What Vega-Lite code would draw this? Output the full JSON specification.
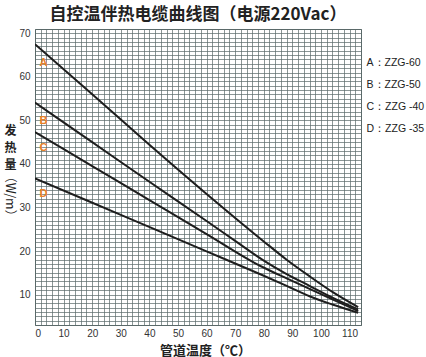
{
  "$schema": "https://vega.github.io/schema/vega-lite/v6.json",
  "width": 326,
  "height": 296,
  "autosize": {"type": "none"},
  "padding": {"left": 35, "top": 29, "right": 65, "bottom": 32},
  "background": "white",
  "title": {
    "text": "自控温伴热电缆曲线图（电源220Vac）",
    "font": "Noto Sans CJK SC",
    "fontSize": 17,
    "fontWeight": "bold",
    "color": "#222222",
    "offset": 0,
    "anchor": "middle"
  },
  "config": {
    "view": {"stroke": "#5a6a6a", "strokeWidth": 1},
    "axis": {
      "labelFont": "Liberation Sans",
      "labelFontSize": 10,
      "labelColor": "#333333",
      "ticks": false,
      "domain": false,
      "gridColor": "#5a6a6a",
      "gridOpacity": 0.7,
      "gridWidth": 1,
      "labelOverlap": false,
      "titleFont": "Noto Sans CJK SC",
      "titleFontWeight": "bold",
      "titleColor": "#222222"
    }
  },
  "datasets": {
    "curves": [
      {"series": "A：ZZG-60", "t": 0, "p": 67.5},
      {"series": "A：ZZG-60", "t": 20, "p": 56.0},
      {"series": "A：ZZG-60", "t": 40, "p": 44.4},
      {"series": "A：ZZG-60", "t": 60, "p": 33.1},
      {"series": "A：ZZG-60", "t": 70, "p": 27.6},
      {"series": "A：ZZG-60", "t": 80, "p": 22.2},
      {"series": "A：ZZG-60", "t": 88, "p": 18.0},
      {"series": "A：ZZG-60", "t": 96, "p": 14.2},
      {"series": "A：ZZG-60", "t": 104, "p": 10.6},
      {"series": "A：ZZG-60", "t": 113, "p": 7.1},
      {"series": "B：ZZG-50", "t": 0, "p": 54.1},
      {"series": "B：ZZG-50", "t": 20, "p": 45.0},
      {"series": "B：ZZG-50", "t": 40, "p": 35.9},
      {"series": "B：ZZG-50", "t": 60, "p": 26.9},
      {"series": "B：ZZG-50", "t": 72, "p": 21.4},
      {"series": "B：ZZG-50", "t": 80, "p": 17.8},
      {"series": "B：ZZG-50", "t": 88, "p": 14.7},
      {"series": "B：ZZG-50", "t": 96, "p": 12.0},
      {"series": "B：ZZG-50", "t": 104, "p": 9.3},
      {"series": "B：ZZG-50", "t": 113, "p": 6.6},
      {"series": "C：ZZG -40", "t": 0, "p": 47.3},
      {"series": "C：ZZG -40", "t": 20, "p": 39.5},
      {"series": "C：ZZG -40", "t": 40, "p": 31.7},
      {"series": "C：ZZG -40", "t": 60, "p": 23.9},
      {"series": "C：ZZG -40", "t": 79, "p": 16.5},
      {"series": "C：ZZG -40", "t": 88, "p": 13.7},
      {"series": "C：ZZG -40", "t": 96, "p": 11.3},
      {"series": "C：ZZG -40", "t": 104, "p": 8.9},
      {"series": "C：ZZG -40", "t": 113, "p": 6.2},
      {"series": "D：ZZG -35", "t": 0, "p": 36.7},
      {"series": "D：ZZG -35", "t": 30, "p": 28.3},
      {"series": "D：ZZG -35", "t": 60, "p": 19.9},
      {"series": "D：ZZG -35", "t": 79, "p": 14.6},
      {"series": "D：ZZG -35", "t": 88, "p": 12.0},
      {"series": "D：ZZG -35", "t": 96, "p": 9.6},
      {"series": "D：ZZG -35", "t": 104, "p": 7.7},
      {"series": "D：ZZG -35", "t": 113, "p": 5.8}
    ],
    "letters": [
      {"letter": "A", "t": 3.0, "p": 63.3},
      {"letter": "B", "t": 3.0, "p": 49.8},
      {"letter": "C", "t": 3.0, "p": 43.6},
      {"letter": "D", "t": 3.0, "p": 33.1}
    ],
    "unit": [
      {"text": "（W/m）", "t": -8.7, "p": 32.6}
    ]
  },
  "encoding": {
    "x": {
      "field": "t",
      "type": "quantitative",
      "scale": {"domain": [0, 114], "nice": false, "zero": false},
      "axis": {
        "values": [0,2,4,6,8,10,12,14,16,18,20,22,24,26,28,30,32,34,36,38,40,42,44,46,48,50,52,54,56,58,60,62,64,66,68,70,72,74,76,78,80,82,84,86,88,90,92,94,96,98,100,102,104,106,108,110,112,114],
        "labelExpr": "datum.value % 10 === 0 ? datum.label : ''",
        "labelPadding": 3,
        "title": "管道温度（℃）",
        "titleFontSize": 13,
        "titleBaseline": "bottom",
        "titleY": 32,
        "titleX": 170
      }
    },
    "y": {
      "field": "p",
      "type": "quantitative",
      "scale": {"domain": [3, 71], "nice": false, "zero": false},
      "axis": {
        "values": [3,4,5,6,7,8,9,10,11,12,13,14,15,16,17,18,19,20,21,22,23,24,25,26,27,28,29,30,31,32,33,34,35,36,37,38,39,40,41,42,43,44,45,46,47,48,49,50,51,52,53,54,55,56,57,58,59,60,61,62,63,64,65,66,67,68,69,70,71],
        "labelExpr": "datum.value % 10 === 0 ? datum.label : ''",
        "labelPadding": 5,
        "title": ["发", "热", "量"],
        "titleFontSize": 12,
        "titleAngle": 0,
        "titleAlign": "center",
        "titleBaseline": "top",
        "titleLineHeight": 17,
        "titleX": -25,
        "titleY": 96
      }
    }
  },
  "layer": [
    {
      "data": {"name": "curves"},
      "mark": {"type": "line", "interpolate": "monotone", "strokeWidth": 2, "clip": true},
      "encoding": {
        "color": {
          "field": "series",
          "type": "nominal",
          "scale": {
            "domain": ["A：ZZG-60", "B：ZZG-50", "C：ZZG -40", "D：ZZG -35"],
            "range": ["#1e1e1e", "#1e1e1e", "#1e1e1e", "#1e1e1e"]
          },
          "legend": {
            "title": null,
            "orient": "none",
            "legendX": 321,
            "legendY": 29,
            "symbolSize": 0,
            "symbolStrokeWidth": 0,
            "labelOffset": 0,
            "labelFont": "Liberation Sans",
            "labelFontSize": 10.5,
            "labelColor": "#222222",
            "rowPadding": 11
          }
        }
      }
    },
    {
      "data": {"name": "letters"},
      "mark": {"type": "text", "font": "Liberation Sans", "fontSize": 11, "fontWeight": "bold", "color": "#e8812a"},
      "encoding": {"text": {"field": "letter"}}
    },
    {
      "data": {"name": "unit"},
      "mark": {"type": "text", "font": "Noto Sans CJK SC", "fontSize": 12.5, "angle": 90, "color": "#222222", "clip": false},
      "encoding": {"text": {"field": "text"}}
    }
  ]
}
